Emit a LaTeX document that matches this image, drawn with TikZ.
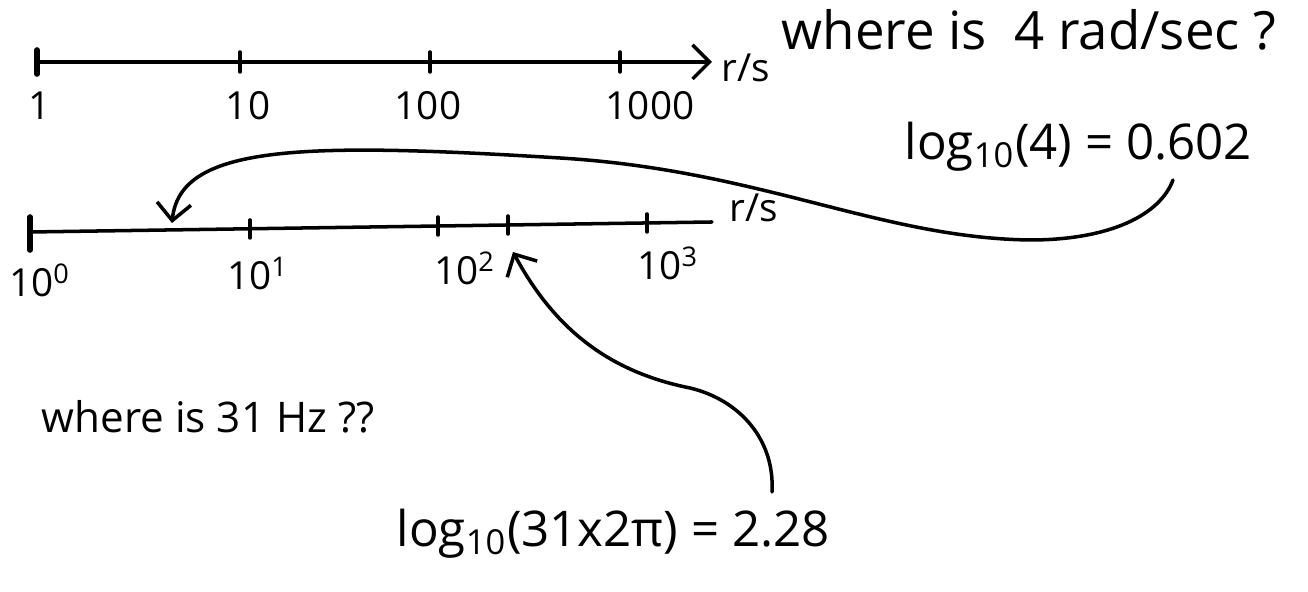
\documentclass[tikz,border=0pt]{standalone}
\usepackage{fontspec}
\setmainfont{Open Sans}
\usetikzlibrary{calc,arrows.meta}

\begin{document}
\begin{tikzpicture}[line join=round, line cap=round,>={Straight Barb[length=1.7mm,width=3.4mm]},line width=1pt,x=0.01cm,y=-0.01cm]
	\tikzset{hand/.style={font=\fontsize{13}{15}\selectfont,inner sep=0pt},
		lab/.style={font=\fontsize{11}{13}\selectfont,inner sep=0pt}}
	\useasboundingbox (0,0) rectangle (1308,592);
	% top axis
	\def\ya{62}
	\coordinate (A0) at (37,\ya);
	\coordinate (A1) at (712,\ya);
	\draw[->] (A0) -- (A1);
	\draw[line width=1.6pt] (37,\ya-12) -- (37,\ya+12);
	\foreach \x in {240,430,620}
		\draw (\x,\ya-10) -- (\x,\ya+10);
	\foreach \x/\t [count=\i] in {40/1,248/10,428/100,650/1000}
		\node[lab,anchor=base] (la\i) at (\x,120) {\t};
	\node[lab,anchor=base west] (rs1) at (720,82) {r/s};
	\node[hand,font=\fontsize{15}{17}\selectfont,anchor=base west] (q1t) at (780,50) {where is \ 4 rad/sec ?};
	\node[hand,font=\fontsize{14}{16}\selectfont,anchor=base west] (e1) at (903,160) {log\textsubscript{10}(4) = 0.602};
	% lower axis
	\coordinate (B0) at (30,232);
	\coordinate (B1) at (712,222);
	\draw (B0) -- (B1);
	\draw[line width=1.6pt] (30,217) -- (30,250);
	\foreach \x/\y in {250/229,438/226,508/225,647/223}
		\draw (\x,\y-9) -- (\x,\y+9);
	\foreach \x/\y/\e [count=\i] in {40/297/0,258/290/1,465/285/2,668/280/3}
		\node[lab,anchor=base] (lb\i) at (\x,\y) {10\textsuperscript{\e}};
	\node[lab,anchor=base west] (rs2) at (728,222) {r/s};
	% where is 4 rad/sec
	\coordinate (s1) at (1173,180);
	\coordinate (m1) at (1030,240);
	\coordinate (n1) at (560,158);
	\coordinate (p1) at (172,223);
	\draw[->] (s1) .. controls (1160,215) and (1110,240) .. (m1)
		.. controls (880,238) and (760,170) .. (n1)
		.. controls (300,142) and (180,145) .. (p1);
	% where is 31 Hz
	\node[hand,font=\fontsize{12}{14}\selectfont,anchor=base west] (q2t) at (40,433) {where is 31 Hz ??};
	\node[hand,font=\fontsize{14}{16}\selectfont,anchor=base west] (e2) at (395,547) {log\textsubscript{10}(31x2π) = 2.28};
	\coordinate (s2) at (772,492);
	\coordinate (m2) at (690,388);
	\coordinate (p2) at (513,252);
	\draw[->] (s2) .. controls (775,440) and (740,400) .. (m2)
		.. controls (610,372) and (555,330) .. (p2);
\end{tikzpicture}
\end{document}
